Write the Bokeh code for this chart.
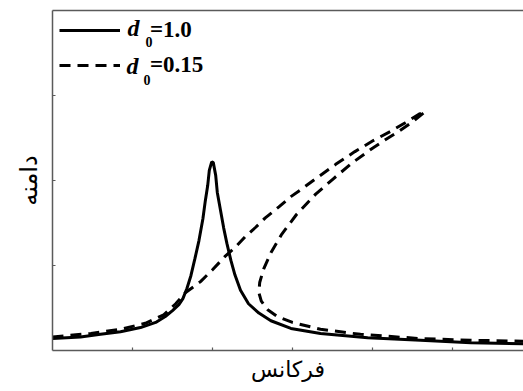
from bokeh.plotting import figure
from bokeh.models import Range1d, FixedTicker, LinearAxis, Legend, LegendItem, Label
from bokeh.embed import file_html
from bokeh.resources import INLINE

# ---- data ----
freq_solid = [0.00, 0.35, 0.60, 0.85, 1.10, 1.29, 1.41, 1.50, 1.58, 1.63, 1.68, 1.73, 1.78,
              1.83, 1.88, 1.91, 1.94, 1.96, 1.99, 2.01, 2.04, 2.06, 2.10, 2.14, 2.18, 2.23,
              2.28, 2.35, 2.45, 2.58, 2.73, 2.98, 3.35, 3.94, 4.60, 5.23, 5.89]
amp_solid = [0.14, 0.16, 0.19, 0.22, 0.27, 0.33, 0.40, 0.47, 0.54, 0.61, 0.73, 0.88, 1.08,
             1.29, 1.55, 1.76, 1.94, 2.12, 2.22, 2.21, 2.06, 1.86, 1.65, 1.44, 1.26, 1.06,
             0.89, 0.71, 0.55, 0.44, 0.35, 0.26, 0.20, 0.15, 0.12, 0.09, 0.08]

freq_dashed = [0.00, 0.48, 0.85, 1.16, 1.39, 1.54, 1.66, 1.85, 2.00, 2.16, 2.29, 2.41, 2.54,
               2.66, 2.83, 2.98, 3.10, 3.29, 3.54, 3.78, 4.01, 4.23, 4.41, 4.58, 4.66,
               4.50, 4.33, 4.16, 4.00, 3.75, 3.51, 3.29, 3.05, 2.86, 2.73, 2.64, 2.59, 2.58,
               2.61, 2.69, 2.81, 3.00, 3.35, 3.85, 4.60, 5.23, 5.89]
amp_dashed = [0.16, 0.20, 0.25, 0.32, 0.42, 0.55, 0.68, 0.81, 0.95, 1.11, 1.22, 1.34, 1.45,
              1.56, 1.69, 1.81, 1.89, 2.02, 2.19, 2.34, 2.47, 2.58, 2.68, 2.78, 2.81,
              2.69, 2.58, 2.48, 2.38, 2.21, 2.02, 1.84, 1.60, 1.36, 1.15, 0.96, 0.80, 0.68,
              0.58, 0.48, 0.40, 0.33, 0.25, 0.19, 0.14, 0.12, 0.11]

x_ticks = [1, 2, 3, 4, 5]
y_ticks = [1, 2, 3]
legend_values = ["=1.0", "=0.15"]
x_title = "فرکانس"
y_title = "دامنه"

AX = "#5a5a5a"

p = figure(width=523, height=391, output_backend="svg", toolbar_location=None,
           x_range=Range1d(0, 471 / 80), y_range=Range1d(0, 4),
           min_border_left=52, min_border_right=0, min_border_top=10, min_border_bottom=41)
p.outline_line_color = None
p.grid.visible = False
p.background_fill_color = "white"
p.border_fill_color = "white"

for ax, ticks in ((p.xaxis[0], x_ticks), (p.yaxis[0], y_ticks)):
    ax.ticker = FixedTicker(ticks=ticks)
    ax.major_label_overrides = {t: "" for t in ticks}
    ax.axis_line_color = AX
    ax.axis_line_width = 1.5
    ax.major_tick_in = 3
    ax.major_tick_out = 0
    ax.major_tick_line_color = AX
    ax.major_tick_line_width = 1.2
    ax.minor_tick_line_color = None
    ax.major_label_standoff = 0
    ax.axis_label_text_font = "DejaVu Sans"
    ax.axis_label_text_font_style = "normal"
    ax.axis_label_text_color = "black"

p.xaxis[0].axis_label = x_title
p.yaxis[0].axis_label = y_title
p.xaxis[0].axis_label_text_font_size = "22px"
p.yaxis[0].axis_label_text_font_size = "24px"
p.xaxis[0].axis_label_standoff = 6
p.yaxis[0].axis_label_standoff = 10

top = LinearAxis(ticker=FixedTicker(ticks=[]), axis_line_color=AX, axis_line_width=1.5,
                 major_tick_line_color=None, minor_tick_line_color=None,
                 major_label_standoff=0, major_tick_in=0, major_tick_out=0)
p.add_layout(top, "above")

r1 = p.line(freq_solid, amp_solid, line_color="black", line_width=3)
r2 = p.line(freq_dashed, amp_dashed, line_color="black", line_width=3, line_dash="11 7")

legend = Legend(items=[LegendItem(label=legend_values[0], renderers=[r1]),
                       LegendItem(label=legend_values[1], renderers=[r2])],
                location="top_left", border_line_color=None, background_fill_alpha=0,
                padding=6, margin=7, glyph_width=61, glyph_height=20, label_height=20,
                spacing=9, label_standoff=30, label_text_font="Liberation Serif",
                label_text_font_style="bold", label_text_font_size="23px",
                label_text_color="black")
p.add_layout(legend)

def sx(px):
    return (px - 52) / 80

def sy(py):
    return (350 - py) / 85

# italic "d" with subscript 0 in front of each legend value
for (dx, dy, zx, zy) in [(127, 27, 145, 41), (126, 65, 143, 79)]:
    p.add_layout(Label(x=sx(dx), y=sy(dy), text="d", text_font="Liberation Serif",
                       text_font_style="bold italic", text_font_size="24px",
                       text_color="black", text_baseline="middle"))
    p.add_layout(Label(x=sx(zx), y=sy(zy), text="0", text_font="Liberation Serif",
                       text_font_style="bold", text_font_size="14px",
                       text_color="black", text_baseline="middle"))

open("out.html", "w").write(file_html(p, INLINE))
